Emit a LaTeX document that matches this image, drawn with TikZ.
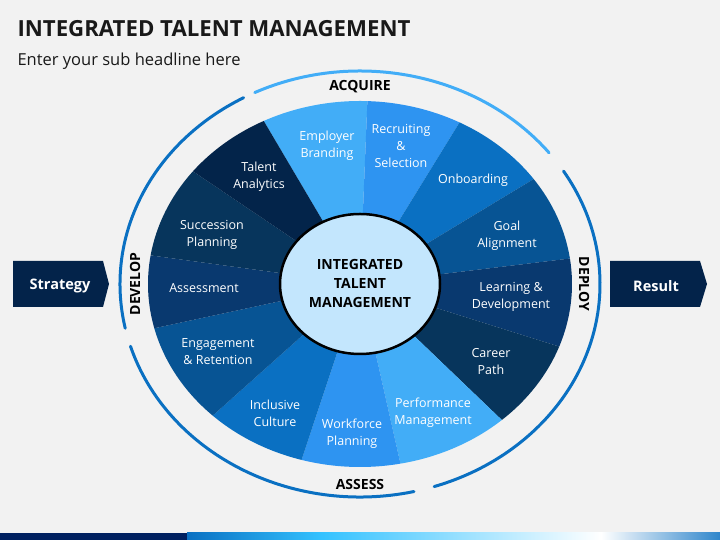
\documentclass[tikz,border=0pt]{standalone}
\usepackage{fontspec}
\setmainfont{Open Sans}
\usepackage{tikz}
\usetikzlibrary{positioning}
\usetikzlibrary{shapes.geometric}
\definecolor{bg}{HTML}{F2F2F2}
\definecolor{nv}{HTML}{03234A}
\definecolor{s1}{HTML}{42ADF7}
\definecolor{s2}{HTML}{2E94F1}
\definecolor{s3}{HTML}{0A70C2}
\definecolor{s4}{HTML}{075494}
\definecolor{s5}{HTML}{09396F}
\definecolor{s6}{HTML}{07355C}
\definecolor{s7}{HTML}{03244A}
\definecolor{cl}{HTML}{C3E6FD}
\definecolor{rb}{HTML}{0A70C2}
\definecolor{bar}{HTML}{002060}

\begin{document}
\begin{tikzpicture}[x=1pt,y=1pt,
    seg/.style={text=white,align=center,yshift=-2pt,font=\fontsize{12.5}{17}\selectfont},
    ringlbl/.style={font=\fontsize{14}{16}\selectfont\bfseries},
    ring/.style={line width=3pt,line cap=round},
    arrlbl/.style={text=white,yshift=-2pt,font=\fontsize{14.5}{17}\selectfont\bfseries}]
        \fill[bg] (0,0) rectangle (720,540);
        \coordinate (w) at (360,256);

        \node[anchor=base west,font=\fontsize{22.2}{26}\selectfont\bfseries,text=black!90] (title) at (14,503) {INTEGRATED TALENT MANAGEMENT};
        \node[anchor=base west,font=\fontsize{16.5}{20}\selectfont,text=black!90] (sub) at (14,474) {Enter your sub headline here};

        % wheel
        \fill[s1] (w) -- ++(117:212pt and 183pt) arc[start angle=117,end angle=88,x radius=212pt,y radius=183pt] -- cycle;
        \fill[s2] (w) -- ++(88:212pt and 183pt) arc[start angle=88,end angle=62,x radius=212pt,y radius=183pt] -- cycle;
        \fill[s3] (w) -- ++(62:212pt and 183pt) arc[start angle=62,end angle=35,x radius=212pt,y radius=183pt] -- cycle;
        \fill[s4] (w) -- ++(35:212pt and 183pt) arc[start angle=35,end angle=8,x radius=212pt,y radius=183pt] -- cycle;
        \fill[s5] (w) -- ++(8:212pt and 183pt) arc[start angle=8,end angle=-20,x radius=212pt,y radius=183pt] -- cycle;
        \fill[s6] (w) -- ++(-20:212pt and 183pt) arc[start angle=-20,end angle=-48,x radius=212pt,y radius=183pt] -- cycle;
        \fill[s1] (w) -- ++(-48:212pt and 183pt) arc[start angle=-48,end angle=-79,x radius=212pt,y radius=183pt] -- cycle;
        \fill[s2] (w) -- ++(-79:212pt and 183pt) arc[start angle=-79,end angle=-106,x radius=212pt,y radius=183pt] -- cycle;
        \fill[s3] (w) -- ++(-106:212pt and 183pt) arc[start angle=-106,end angle=-134,x radius=212pt,y radius=183pt] -- cycle;
        \fill[s4] (w) -- ++(-134:212pt and 183pt) arc[start angle=-134,end angle=-166,x radius=212pt,y radius=183pt] -- cycle;
        \fill[s5] (w) -- ++(-166:212pt and 183pt) arc[start angle=-166,end angle=-189,x radius=212pt,y radius=183pt] -- cycle;
        \fill[s6] (w) -- ++(-189:212pt and 183pt) arc[start angle=-189,end angle=-218,x radius=212pt,y radius=183pt] -- cycle;
        \fill[s7] (w) -- ++(-218:212pt and 183pt) arc[start angle=-218,end angle=-243,x radius=212pt,y radius=183pt] -- cycle;

        \node[seg] (emp) at (327,396) {Employer\\Branding};
        \node[seg] (rec) at (401,396) {Recruiting\\\&\\Selection};
        \node[seg] (onb) at (473,362) {Onboarding};
        \node[seg] (goal) at (507,306) {Goal\\Alignment};
        \node[seg] (learn) at (511,245) {Learning \&\\Development};
        \node[seg] (career) at (491,180) {Career\\Path};
        \node[seg] (perf) at (433,129) {Performance\\Management};
        \node[seg] (work) at (352,108) {Workforce\\Planning};
        \node[seg] (incl) at (275,129) {Inclusive\\Culture};
        \node[seg] (eng) at (218,190) {Engagement\\\& Retention};
        \node[seg] (assess) at (204,254) {Assessment};
        \node[seg] (succ) at (212,307) {Succession\\Planning};
        \node[seg] (tal) at (259,365) {Talent\\Analytics};

        \node[ellipse,draw=black,line width=2.5pt,fill=cl,minimum width=160pt,minimum height=140pt,align=center,font=\fontsize{14}{19}\selectfont\bfseries] (core) at (w) {INTEGRATED\\TALENT\\MANAGEMENT};

        % outer ring
        \draw[ring,s1] (w) ++(38:240pt and 213pt) arc[start angle=38,end angle=116,x radius=240pt,y radius=213pt];
        \draw[ring,rb] (w) ++(119:240pt and 213pt) arc[start angle=119,end angle=192,x radius=240pt,y radius=213pt];
        \draw[ring,rb] (w) ++(197:240pt and 213pt) arc[start angle=197,end angle=283,x radius=240pt,y radius=213pt];
        \draw[ring,rb] (w) ++(288:240pt and 213pt) arc[start angle=288,end angle=392,x radius=240pt,y radius=213pt];

        \node[ringlbl] (acq) at (360,453) {ACQUIRE};
        \node[ringlbl,rotate=-90] (dep) at (584,256) {DEPLOY};
        \node[ringlbl] (ass) at (360,55) {ASSESS};
        \node[ringlbl,rotate=90] (dev) at (135,256) {DEVELOP};

        % side arrows
        \fill[nv] (13,279) -- (103,279) -- (109,256) -- (103,233) -- (13,233) -- cycle;
        \node[arrlbl] (strat) at (60,256) {Strategy};
        \fill[nv] (610,279) -- (700,279) -- (707,256) -- (700,233) -- (610,233) -- cycle;
        \node[arrlbl] (res) at (656,256) {Result};

        % bottom bar
        \fill[bar] (0,0) rectangle (187,7);
        \fill[left color=s3,right color=cyan!70!blue!80] (187,0) rectangle (321,7);
        \fill[left color=cyan!70!blue!80,right color=white] (321,0) rectangle (601,7);
        \fill[left color=white,right color=rb!85] (601,0) rectangle (720,7);
\end{tikzpicture}
\end{document}
